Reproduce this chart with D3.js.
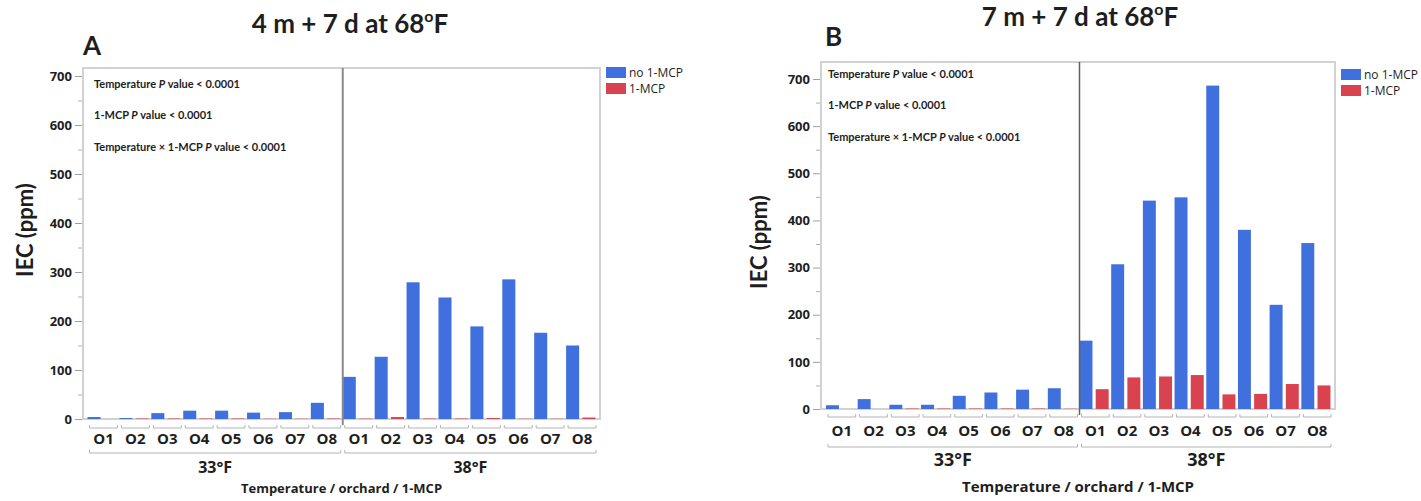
<!DOCTYPE html>
<html>
<head>
<meta charset="utf-8">
<script src="https://cdn.jsdelivr.net/npm/d3@7"></script>
<style>
  body { margin: 0; background: #fff; }
  svg text { font-family: "Open Sans", sans-serif; fill: #1e1e1e; }
  .big { font-family: Lato, sans-serif; font-weight: 700; }
</style>
</head>
<body>
<div id="chart"></div>
<script>
// categories
const orchards = ["O1", "O2", "O3", "O4", "O5", "O6", "O7", "O8"];
const temperatures = ["33°F", "38°F"];
const treatments = ["no 1-MCP", "1-MCP"];
const yTicks = [0, 100, 200, 300, 400, 500, 600, 700];
const yMinor = [50, 150, 250, 350, 450, 550, 650];

// IEC (ppm), 33°F O1..O8 then 38°F O1..O8
const iecA_noMcp = [4, 2, 12, 17, 17, 13, 14, 33, 86, 127, 279, 248, 189, 285, 176, 150];
const iecA_mcp   = [0, 1, 1, 1, 1, 0.5, 0.5, 1, 0.8, 4, 1, 1, 2, 0.5, 0.5, 3];
const iecB_noMcp = [8, 21, 9, 9, 28, 35, 41, 44, 145, 307, 442, 449, 686, 380, 221, 352];
const iecB_mcp   = [0, 0, 1, 1, 1, 1, 1, 0.5, 42, 67, 69, 72, 31, 32, 53, 50];

const statLines = [
  ["Temperature ", "P", " value < 0.0001"],
  ["1-MCP ", "P", " value < 0.0001"],
  ["Temperature × 1-MCP ", "P", " value < 0.0001"]
];

const colors = { "no 1-MCP": "#4070dd", "1-MCP": "#d9434f" };

const svg = d3.select("#chart").append("svg")
  .attr("width", 1421)
  .attr("height", 501);

// layout for each panel
const panels = [
  { letter: "A", title: "4 m + 7 d at 68", noMcp: iecA_noMcp, mcp: iecA_mcp,
    titleX: 350, titleY: 33, letterX: 83, letterY: 55,
    left: 83, right: 600, top: 68, y0: 419, y700: 76, bandL: 87.5, bandR: 598,
    yTitleX: 33, yTitleY: 230, brackY: 428, oLabY: 443.5, grpBrackY: 453, grpLabY: 473,
    axisTitleY: 493, grpSize: 16, axisSize: 13, legX: 606, legY: 67,
    statX: 94, statY: [88, 119, 151], divW: 2, divC: "#8a8a8a" },
  { letter: "B", title: "7 m + 7 d at 68", noMcp: iecB_noMcp, mcp: iecB_mcp,
    titleX: 1080, titleY: 26, letterX: 825, letterY: 46,
    left: 821, right: 1335, top: 62, y0: 409, y700: 79, bandL: 826, bandR: 1333,
    yTitleX: 767, yTitleY: 242, brackY: 417, oLabY: 436, grpBrackY: 447, grpLabY: 466,
    axisTitleY: 492, grpSize: 18, axisSize: 15, legX: 1341, legY: 69,
    statX: 828, statY: [78, 109, 141], divW: 1.5, divC: "#606060" }
];

panels.forEach(function (p) {
  const g = svg.append("g");

  const keys = [];
  temperatures.forEach(t => orchards.forEach(o => keys.push(t + "|" + o)));
  const rows = keys.map((k, i) => ({ key: k, orchard: k.split("|")[1], temp: k.split("|")[0],
    "no 1-MCP": p.noMcp[i], "1-MCP": p.mcp[i] }));

  const x = d3.scaleBand().domain(keys).range([p.bandL, p.bandR]);
  const sub = d3.scaleBand().domain(treatments)
    .range([0, x.bandwidth() * 0.92]).paddingInner(0.2);
  const y = d3.scaleLinear().domain([0, 700]).range([p.y0, p.y700]);

  // title + letter
  const t = g.append("text").attr("class", "big")
    .attr("x", p.titleX).attr("y", p.titleY)
    .attr("text-anchor", "middle").style("font-size", "26px");
  t.append("tspan").text(p.title);
  t.append("tspan").attr("dy", -11).style("font-size", "16px").text("o");
  t.append("tspan").attr("dy", 11).text("F");

  g.append("text").attr("class", "big")
    .attr("x", p.letterX).attr("y", p.letterY)
    .style("font-size", "26px").text(p.letter);

  // frame
  g.append("rect")
    .attr("x", p.left).attr("y", p.top)
    .attr("width", p.right - p.left).attr("height", p.y0 - p.top)
    .attr("fill", "none").attr("stroke", "#d2d2d2").attr("stroke-width", 2);

  // bars
  g.append("g").selectAll("g")
    .data(rows)
    .join("g")
    .attr("transform", d => `translate(${x(d.key)},0)`)
    .selectAll("rect")
    .data(d => treatments.map(s => ({ s: s, v: d[s] })))
    .join("rect")
    .attr("x", d => sub(d.s))
    .attr("y", d => y(d.v))
    .attr("width", sub.bandwidth())
    .attr("height", d => y(0) - y(d.v))
    .attr("fill", d => colors[d.s]);

  // divider between temperatures
  const divX = x(keys[8]);
  g.append("line")
    .attr("x1", divX).attr("x2", divX)
    .attr("y1", p.top).attr("y2", p.y0 + 6)
    .attr("stroke", p.divC).attr("stroke-width", p.divW);

  // y axis
  const yAxis = g.append("g")
    .attr("transform", `translate(${p.left - 1},0)`)
    .call(d3.axisLeft(y).tickValues(yTicks).tickSize(7).tickPadding(3));
  yAxis.select(".domain").remove();
  yAxis.selectAll("line").attr("stroke", "#a0a0a0");
  yAxis.selectAll("text").style("font-size", "13px").style("font-weight", 700)
    .style("font-family", "'Open Sans', sans-serif").attr("fill", "#1e1e1e");

  const yMin = g.append("g")
    .attr("transform", `translate(${p.left - 1},0)`)
    .call(d3.axisLeft(y).tickValues(yMinor).tickSize(4).tickFormat(""));
  yMin.select(".domain").remove();
  yMin.selectAll("line").attr("stroke", "#b0b0b0");

  g.append("text").attr("class", "big")
    .attr("transform", `translate(${p.yTitleX},${p.yTitleY}) rotate(-90)`)
    .attr("text-anchor", "middle").style("font-size", "22px")
    .text("IEC (ppm)");

  // category brackets + labels
  function bracket(x1, x2, yy) {
    g.append("path")
      .attr("d", `M${x1},${yy - 3}V${yy}H${x2}V${yy - 3}`)
      .attr("fill", "none").attr("stroke", "#b4b4b4").attr("stroke-width", 1);
  }
  keys.forEach(function (k) {
    bracket(x(k) + 2, x(k) + x.bandwidth() - 2, p.brackY);
  });
  g.append("g").selectAll("text")
    .data(rows)
    .join("text")
    .attr("x", d => x(d.key) + x.bandwidth() / 2)
    .attr("y", p.oLabY)
    .attr("text-anchor", "middle")
    .style("font-size", "15px").style("font-weight", 700)
    .text(d => d.orchard);

  temperatures.forEach(function (tp, i) {
    const a = x(tp + "|O1"), b = x(tp + "|O8") + x.bandwidth();
    bracket(a + 2, b - 2, p.grpBrackY);
    g.append("text")
      .attr("x", (a + b) / 2).attr("y", p.grpLabY)
      .attr("text-anchor", "middle")
      .style("font-size", p.grpSize + "px").style("font-weight", 700)
      .text(tp);
  });

  g.append("text")
    .attr("x", (p.left + p.right) / 2).attr("y", p.axisTitleY)
    .attr("text-anchor", "middle")
    .style("font-size", p.axisSize + "px").style("font-weight", 700)
    .text("Temperature / orchard / 1-MCP");

  // statistics note
  statLines.forEach(function (parts, i) {
    const st = g.append("text")
      .attr("x", p.statX).attr("y", p.statY[i])
      .style("font-family", "Lato, sans-serif")
      .style("font-size", "11px").style("font-weight", 700);
    parts.forEach(function (s, j) {
      st.append("tspan").style("font-style", j === 1 ? "italic" : "normal").text(s);
    });
  });

  // legend
  const leg = g.append("g").attr("transform", `translate(${p.legX},${p.legY})`);
  treatments.forEach(function (s, i) {
    leg.append("rect")
      .attr("x", 0).attr("y", i * 16)
      .attr("width", 20).attr("height", 11)
      .attr("fill", colors[s]);
    leg.append("text")
      .attr("x", 23).attr("y", i * 16 + 10)
      .style("font-size", "12px").attr("fill", "#333")
      .text(s);
  });
});
</script>
</body>
</html>
